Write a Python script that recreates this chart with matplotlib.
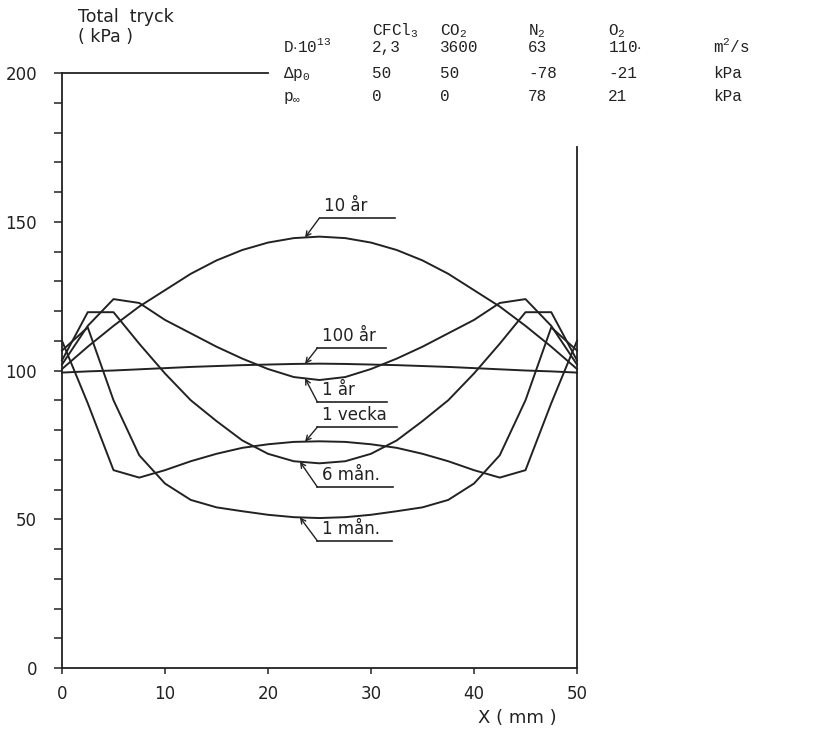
import matplotlib
matplotlib.use('Agg')
import matplotlib.pyplot as plt
import numpy as np

# x position in the slab (mm), common grid for all curves
x_mm = [0, 2.5, 5, 7.5, 10, 12.5, 15, 17.5, 20, 22.5, 25,
        27.5, 30, 32.5, 35, 37.5, 40, 42.5, 45, 47.5, 50]

# total pressure (kPa)
p_10ar = [100.5, 108, 115, 121.5, 127, 132.5, 137, 140.5, 143, 144.5, 145,
          144.5, 143, 140.5, 137, 132.5, 127, 121.5, 115, 108, 100.5]
p_100ar = [99.3, 99.7, 100, 100.4, 100.8, 101.2, 101.5, 101.8, 102, 102.2, 102.3,
           102.2, 102, 101.8, 101.5, 101.2, 100.8, 100.4, 100, 99.7, 99.3]
p_1ar = [102, 115, 124, 122.7, 117, 112.5, 108, 104, 100.5, 97.8, 96.8,
         97.8, 100.5, 104, 108, 112.5, 117, 122.7, 124, 115, 102]
p_1vecka = [110, 89, 66.5, 64, 66.5, 69.5, 72, 74, 75.2, 76, 76.2,
            76, 75.2, 74, 72, 69.5, 66.5, 64, 66.5, 89, 110]
p_6man = [103.4, 119.6, 119.6, 109, 99, 90, 83, 76.5, 72, 69.5, 68.8,
          69.5, 72, 76.5, 83, 90, 99, 109, 119.6, 119.6, 103.4]
p_1man = [106.7, 114.5, 90, 71.5, 62, 56.5, 54, 52.7, 51.5, 50.7, 50.4,
          50.7, 51.5, 52.7, 54, 56.5, 62, 71.5, 90, 114.5, 106.7]

curves = [p_10ar, p_100ar, p_1ar, p_1vecka, p_6man, p_1man]
curve_names = ['10 år', '100 år', '1 år', '1 vecka', '6 mån.', '1 mån.']
# leader: point on curve (x), knee (x, y) and end of underline (x)
ptr_x = [23.6, 23.6, 23.6, 23.6, 23.1, 23.1]
knee_x = [25.0, 24.8, 24.8, 24.8, 24.8, 24.8]
knee_y = [151.3, 107.6, 89.4, 81.0, 60.8, 42.7]
end_x = [32.3, 31.5, 31.6, 32.5, 32.1, 32.0]

# table in the top right
gases = ['CFCl$_3$', 'CO$_2$', 'N$_2$', 'O$_2$']
row_names = ['D$\\cdot$10$^{13}$', '$\\Delta$p$_0$', 'p$_\\infty$']
D_vals = ['2,3', '3600', '63', '110$\\cdot$']
dp0_vals = ['50', '50', '-78', '-21']
pinf_vals = ['0', '0', '78', '21']
units = ['m$^2$/s', 'kPa', 'kPa']

ink = '#222222'
plt.rcParams['font.family'] = ['DejaVu Sans']
plt.rcParams['mathtext.fontset'] = 'custom'
plt.rcParams['mathtext.rm'] = 'Liberation Mono'
plt.rcParams['mathtext.it'] = 'Liberation Mono'
plt.rcParams['mathtext.bf'] = 'Liberation Mono'

W, H = 830, 744
fig = plt.figure(figsize=(W / 100, H / 100), dpi=100)
ax = fig.add_axes([62 / W, 1 - 668 / H, 515 / W, 595 / H])

for vals in curves:
    ax.plot(x_mm, vals, color=ink, lw=1.4, clip_on=False)

for name, vals, px, kx, ky, ex in zip(curve_names, curves, ptr_x, knee_x, knee_y, end_x):
    py = np.interp(px, x_mm, vals)
    ax.annotate('', xy=(px, py), xytext=(kx, ky),
                arrowprops=dict(arrowstyle='->,head_length=0.35,head_width=0.18',
                                color=ink, lw=1.0, shrinkA=0, shrinkB=0))
    ax.plot([kx, ex], [ky, ky], color=ink, lw=1.2)
    ax.text(kx + 0.4, ky + 1.0, name, ha='left', va='bottom', fontsize=12, color=ink)

ax.set_xlim(0, 50)
ax.set_ylim(0, 200)
ax.spines['top'].set_bounds(0, 20)
ax.spines['right'].set_bounds(0, 175)
for s in ax.spines.values():
    s.set_color(ink)
    s.set_linewidth(1.3)

ax.set_xticks([0, 10, 20, 30, 40, 50])
ax.set_yticks([0, 50, 100, 150, 200])
ax.set_yticks(np.arange(0, 201, 10), minor=True)
ax.tick_params(axis='y', which='both', direction='out', length=6, width=1.1,
               color=ink, labelsize=12, labelcolor=ink, pad=12)
ax.tick_params(axis='x', which='major', direction='out', length=4, width=1.1,
               color=ink, labelsize=12, labelcolor=ink, pad=8)

fig.text(78 / W, 1 - 22 / H, 'Total  tryck', fontsize=12.5, color=ink, va='baseline')
fig.text(78 / W, 1 - 42 / H, '( kPa )', fontsize=12.5, color=ink, va='baseline')
fig.text(517 / W, 1 - 718 / H, 'X ( mm )', fontsize=13, color=ink, ha='center', va='center')

# table
col_x = [372, 440, 528, 608]
tkw = dict(fontsize=11.5, color=ink, va='baseline', family='Liberation Mono')
for g, cx in zip(gases, col_x):
    fig.text(cx / W, 1 - 35 / H, g, **tkw)
row_y = [52, 78, 101]
rows = [D_vals, dp0_vals, pinf_vals]
for name, ry, vals, unit in zip(row_names, row_y, rows, units):
    fig.text(283 / W, 1 - ry / H, name, **tkw)
    for v, cx in zip(vals, col_x):
        fig.text(cx / W, 1 - ry / H, v, **tkw)
    fig.text(713 / W, 1 - ry / H, unit, **tkw)

fig.savefig('out.png', dpi=100, facecolor='white')
